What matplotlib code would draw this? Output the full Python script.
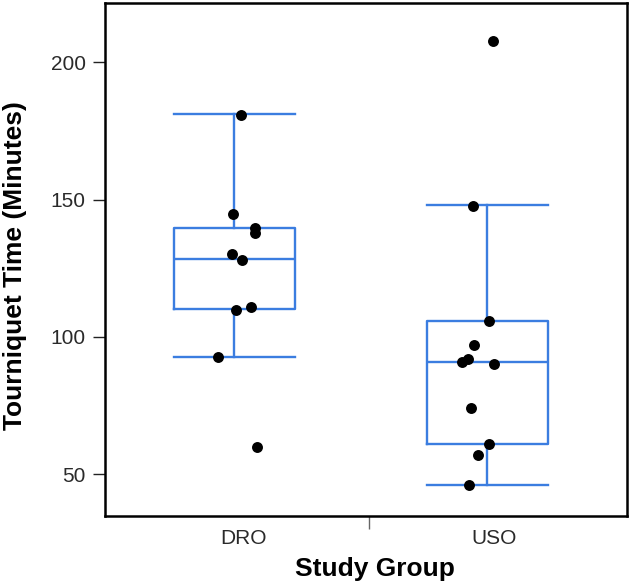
import matplotlib
matplotlib.use("Agg")
import matplotlib.pyplot as plt

plt.rcParams['font.family'] = ['Liberation Sans', 'DejaVu Sans']

# ---- data ----
groups = ["DRO", "USO"]
# box statistics (minutes)
whis_lo = [92.7, 45.9]
q1 = [110.1, 60.8]
median = [128.2, 90.8]
q3 = [139.6, 105.8]
whis_hi = [181.1, 148.0]

# individual observations
dro_values = [180.8, 144.8, 139.7, 137.7, 130.0, 128.0, 109.7, 110.7, 92.7, 59.8]
dro_jitter = [0.026, -0.004, 0.083, 0.083, -0.008, 0.032, 0.008, 0.067, -0.063, 0.091]
uso_values = [207.7, 147.7, 105.8, 97.0, 92.0, 90.8, 90.0, 73.9, 60.9, 56.9, 45.9]
uso_jitter = [0.023, -0.055, 0.009, -0.051, -0.074, -0.100, 0.029, -0.065, 0.009, -0.036, -0.071]

yticks = [50, 100, 150, 200]

# ---- plot ----
fig = plt.figure(figsize=(6.31, 5.88), dpi=100)
ax = fig.add_axes([105/631, 1-516/588, 522/631, 513/588])

blue = "#3b7de0"
positions = [1, 2]
stats = []
for i, g in enumerate(groups):
    stats.append(dict(label=g, med=median[i], q1=q1[i], q3=q3[i],
                      whislo=whis_lo[i], whishi=whis_hi[i], fliers=[]))
lp = dict(color=blue, linewidth=1.7)
ax.bxp(stats, positions=positions, widths=0.478, showfliers=False,
       boxprops=lp, whiskerprops=lp, capprops=lp, medianprops=lp,
       capwidths=0.478, manage_ticks=False)

for pos, vals, jit in [(1, dro_values, dro_jitter), (2, uso_values, uso_jitter)]:
    xs = [pos + j for j in jit]
    ax.scatter(xs, vals, s=62, color="black", zorder=5, linewidths=0)

ax.set_xlim(0.490, 2.553)
ax.set_ylim(34.7, 221.6)

ax.set_yticks(yticks)
ax.set_yticklabels([str(v) for v in yticks])
ax.tick_params(axis='y', length=9, width=1.0, pad=5, labelsize=15, labelcolor="#2a2a2a", color="#222222")

ax.set_xticks([1.036, 2.028])
ax.set_xticklabels(groups)
ax.tick_params(axis='x', which='major', length=0, pad=9, labelsize=15, labelcolor="#2a2a2a")
ax.set_xticks([1.534], minor=True)
ax.tick_params(axis='x', which='minor', length=9, width=1.0, color="#666666")

for s in ax.spines.values():
    s.set_linewidth(1.8)
    s.set_color("black")

ax.set_xlabel("Study Group", fontsize=19, fontweight='bold')
ax.xaxis.label.set_va('center')
ax.xaxis.set_label_coords((375-105)/522, (516-569)/513)
ax.set_ylabel("Tourniquet Time (Minutes)", fontsize=19, fontweight='bold')
ax.yaxis.label.set_va('center')
ax.yaxis.set_label_coords((15-105)/522, (516-266)/513)

fig.savefig("out.png", dpi=100)
